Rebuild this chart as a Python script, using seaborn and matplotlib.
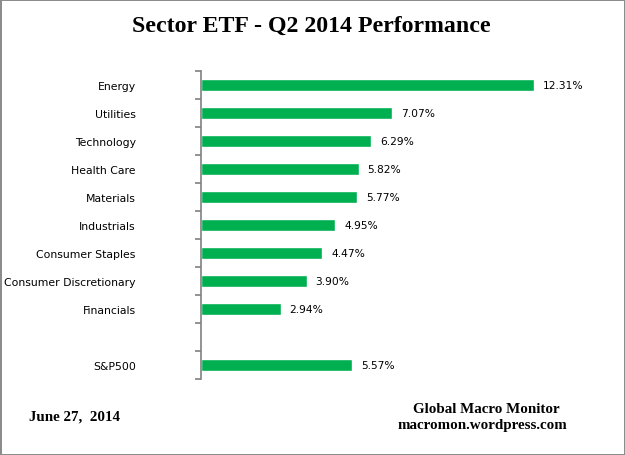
import matplotlib
matplotlib.use("Agg")
import matplotlib.pyplot as plt
import seaborn as sns
import pandas as pd
import numpy as np

sectors = ["Energy", "Utilities", "Technology", "Health Care", "Materials",
           "Industrials", "Consumer Staples", "Consumer Discretionary",
           "Financials", "S&P500"]
returns = [12.31, 7.07, 6.29, 5.82, 5.77, 4.95, 4.47, 3.90, 2.94, 5.57]
order = sectors[:9] + [" "] + ["S&P500"]

title = "Sector ETF - Q2 2014 Performance"
date_text = "June 27,  2014"
source_1 = "Global Macro Monitor"
source_2 = "macromon.wordpress.com"

sns.set_theme(style="white")
plt.rcParams["font.family"] = ["DejaVu Sans"]
plt.rcParams["text.color"] = "black"
plt.rcParams["ytick.color"] = "black"

df = pd.DataFrame({"sector": sectors, "ret": returns})

fig = plt.figure(figsize=(6.25, 4.56), dpi=100)
fig.patch.set_facecolor("white")
fig.patch.set_edgecolor("#8c8c8c")
fig.patch.set_linewidth(2)

ax = fig.add_axes([201/625, 1-380/456, (580-201)/625, (380-72)/456])
sns.barplot(data=df, x="ret", y="sector", order=order, color="#00B050",
            saturation=1, width=0.42, ax=ax, orient="h")

ax.set_xlim(0, 14)
ax.set_ylim(len(order)-0.5, -0.5)
ax.set_xlabel("")
ax.set_ylabel("")
ax.set_xticks([])
for s in ["top", "right", "bottom"]:
    ax.spines[s].set_visible(False)
ax.spines["left"].set_color("#808080")
ax.spines["left"].set_linewidth(1.2)

ax.set_yticks(range(len(order)))
ax.set_yticklabels(order, fontsize=7.8, color="black")
ax.tick_params(axis="y", which="major", length=0, pad=47)
ax.set_yticks(np.arange(-0.5, len(order), 1), minor=True)
ax.tick_params(axis="y", which="minor", length=4, width=1.2, color="#808080",
               direction="out", left=True)
for lbl in ax.get_yticklabels():
    lbl.set_horizontalalignment("right")

for cont in ax.containers:
    ax.bar_label(cont, labels=[f"{v:.2f}%" for v in cont.datavalues],
                 padding=6.5, fontsize=7.7, color="black")

fig.text(311/625, 1-26/456, title, ha="center", va="center",
         family="Liberation Serif", fontweight="bold", fontsize=17.2,
         color="black")
fig.text(29/625, 1-417/456, date_text, ha="left", va="center",
         family="Liberation Serif", fontweight="bold", fontsize=10.8,
         color="black")
fig.text(486/625, 1-410/456, source_1, ha="center", va="center",
         family="Liberation Serif", fontweight="bold", fontsize=10.8,
         color="black")
fig.text(482/625, 1-426/456, source_2, ha="center", va="center",
         family="Liberation Serif", fontweight="bold", fontsize=10.8,
         color="black")

fig.savefig("out.png", dpi=100, facecolor=fig.get_facecolor(),
            edgecolor=fig.get_edgecolor())
